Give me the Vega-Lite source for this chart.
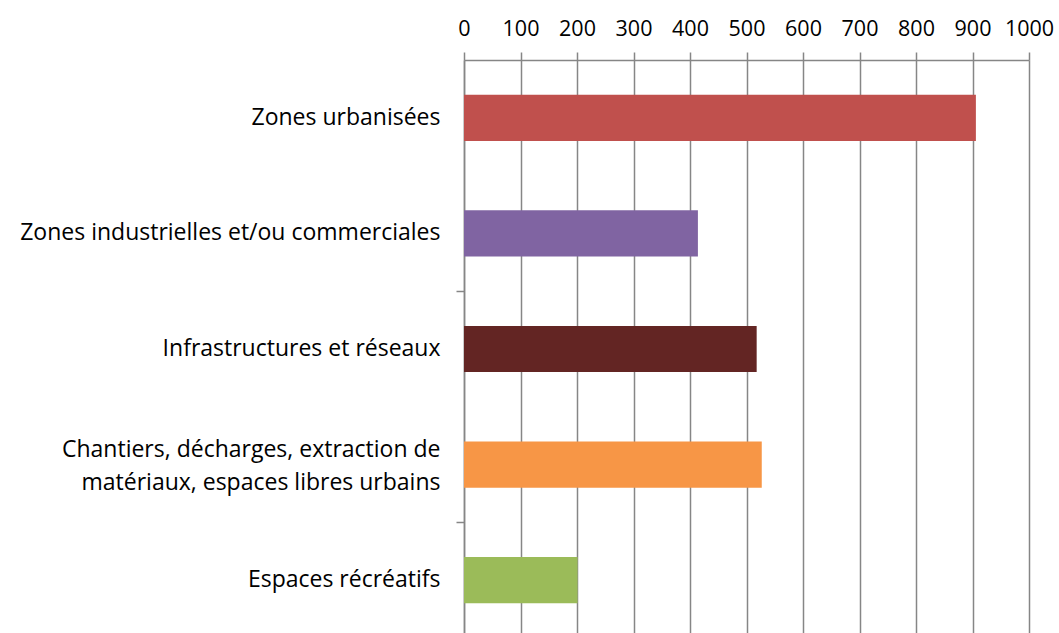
{
  "$schema": "https://vega.github.io/schema/vega-lite/v6.json",
  "width": 565,
  "height": 578,
  "padding": {"left": 19, "top": 18, "right": 5, "bottom": 0},
  "background": "white",
  "data": {
    "values": [
      {"categorie": "Zones urbanisées", "valeur": 906, "couleur": "#C0504D"},
      {"categorie": "Zones industrielles et/ou commerciales", "valeur": 414, "couleur": "#8064A2"},
      {"categorie": "Infrastructures et réseaux", "valeur": 518, "couleur": "#632523"},
      {"categorie": "Chantiers, décharges, extraction de|matériaux, espaces libres urbains", "valeur": 527, "couleur": "#F79646"},
      {"categorie": "Espaces récréatifs", "valeur": 201, "couleur": "#9BBB59"}
    ]
  },
  "mark": {"type": "bar"},
  "encoding": {
    "y": {
      "field": "categorie",
      "type": "nominal",
      "sort": null,
      "scale": {"paddingInner": 0.6, "paddingOuter": 0.3},
      "axis": {
        "title": null,
        "labelExpr": "datum.value ? split(datum.value, '|') : ''",
        "labelFont": "Open Sans",
        "labelFontSize": 23,
        "labelColor": "#000000",
        "labelLineHeight": 33,
        "labelPadding": 16,
        "labelLimit": 600,
        "labelOffset": {"condition": {"test": "indexof(datum.value, '|') >= 0", "value": -15}, "value": 0},
        "tickSize": 8,
        "bandPosition": -0.75,
        "tickWidth": 1.5,
        "tickColor": {"condition": {"test": "datum.value === 'Infrastructures et réseaux' || datum.value === 'Espaces récréatifs'", "value": "#868686"}, "value": "transparent"},
        "domainColor": "#868686",
        "domainWidth": 1.5,
        "grid": false
      }
    },
    "x": {
      "field": "valeur",
      "type": "quantitative",
      "scale": {"domain": [0, 1000], "nice": false},
      "axis": {
        "orient": "top",
        "title": null,
        "format": "d",
        "values": [0, 100, 200, 300, 400, 500, 600, 700, 800, 900, 1000],
        "labelFont": "Open Sans",
        "labelFontSize": 21.5,
        "labelColor": "#000000",
        "labelPadding": 12,
        "labelFlush": false,
        "labelOverlap": false,
        "tickSize": 8,
        "tickWidth": 1.5,
        "tickColor": "#868686",
        "domainColor": "#868686",
        "domainWidth": 1.5,
        "grid": true,
        "gridColor": "#868686",
        "gridWidth": 1.5
      }
    },
    "color": {"field": "couleur", "type": "nominal", "scale": null}
  },
  "config": {"view": {"stroke": null}}
}
